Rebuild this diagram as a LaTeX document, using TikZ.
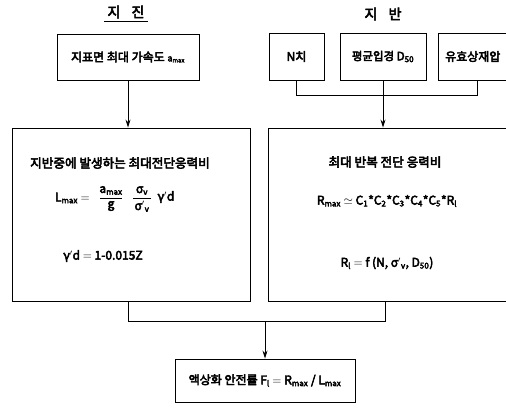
\documentclass[tikz,border=0pt]{standalone}
\usepackage{amsmath}
\usepackage{fontspec}
\setmainfont{Noto Sans CJK KR}[FakeBold=4]
\usetikzlibrary{arrows.meta,calc}
\newcommand{\sm}[1]{\textsubscript{#1}}
\begin{document}
\begin{tikzpicture}[x=1pt,y=-1pt,
  box/.style={draw,line width=0.9pt,rectangle,inner sep=0pt,anchor=center},
  txt/.style={font=\fontsize{12}{14}\selectfont,inner sep=0pt},
  ttl/.style={font=\fontsize{14}{16}\selectfont,inner sep=0pt},
  conn/.style={line width=0.9pt},
  arr/.style={line width=0.9pt,-{Stealth[length=8pt,width=5pt]}}]
\useasboundingbox (0,0) rectangle (506,407);
\clip (0,0) rectangle (506,407);
% titles
\node[ttl] (t1) at (126,12) {지\hspace{0.8em}진};
\draw[line width=0.9pt] ($(t1.south west)+(-3,3)$) coordinate (ul1) -- ($(t1.south east)+(3,3)$) coordinate (ul2);
\node[ttl] (t2) at (383,14) {지\hspace{0.8em}반};
% top boxes
\node[box,minimum width=142pt,minimum height=46pt] (A) at (128,57) {};
\node[txt] at (A.center) {지표면 최대 가속도 {\fontsize{9}{10}\selectfont a\sm{max}}};
\node[box,minimum width=55pt,minimum height=47pt] (N) at (296.5,56.5) {};
\node[txt] at (N.center) {N치};
\node[box,minimum width=86pt,minimum height=47pt] (D) at (383,56.5) {};
\node[txt,font=\fontsize{11.5}{13}\selectfont] at (D.center) {평균입경 D\sm{50}};
\node[box,minimum width=78pt,minimum height=47pt] (U) at (477,56.5) {};
\node[txt,anchor=west] at (445,56.5) {유효상재압};
% big boxes
\node[box,minimum width=238pt,minimum height=173pt] (L) at (131,214.5) {};
\node[box,minimum width=242pt,minimum height=173pt] (R) at (389,214.5) {};
\node[box,minimum width=180pt,minimum height=43pt] (F) at (265,380.5) {};
% left box text
\node[txt,font=\fontsize{12.6}{14}\selectfont] at (120,163) {지반중에 발생하는 최대전단응력비};
\node[txt,anchor=east] (lm) at (90,198) {L\sm{max} $=$};
\node[txt,anchor=south] (n1) at (111,195) {a\sm{max}};
\node[txt,anchor=north] (d1) at (111,201) {g};
\draw[line width=0.8pt] (100,198) -- (122,198);
\node[txt,anchor=south] (n2) at (142,195) {σ\sm{v}};
\node[txt,anchor=north] (d2) at (142,201) {σ$'$\sm{v}};
\node[txt] (gd) at (166,197) {γ$'$d};
\draw[line width=0.8pt] (133,198) -- (151,198);
\node[txt] at (103,256) {γ$'$d $=$ 1-0.015Z};
% right box text
\node[txt,font=\fontsize{12.6}{14}\selectfont] at (385,162) {최대 반복 전단 응력비};
\node[txt] at (387,201) {R\sm{max} $\simeq$ C\sm{1}*C\sm{2}*C\sm{3}*C\sm{4}*C\sm{5}*R\sm{l}};
\node[txt] at (387,263) {R\sm{l} $=$ f (N, σ$'$\sm{v}, D\sm{50})};
% bottom text
\node[txt] at (F.center) {액상화 안전률 F\sm{l} $=$ R\sm{max} / L\sm{max}};
% connectors
\draw[arr] (A.south) -- (A.south |- L.north);
\coordinate (bus) at (300,95);
\draw[conn] (N.south) -- (N.south |- bus) -- (U.south |- bus) -- (U.south);
\draw[arr] (D.south) -- (D.south |- R.north);
\coordinate (jl) at (128,321);
\coordinate (jr) at (385,321);
\draw[conn] (L.south -| jl) -- (jl) -- (jr) -- (R.south -| jr);
\coordinate (jm) at (F.north |- jl);
\draw[arr] (jm) -- (F.north);
\end{tikzpicture}
\end{document}
